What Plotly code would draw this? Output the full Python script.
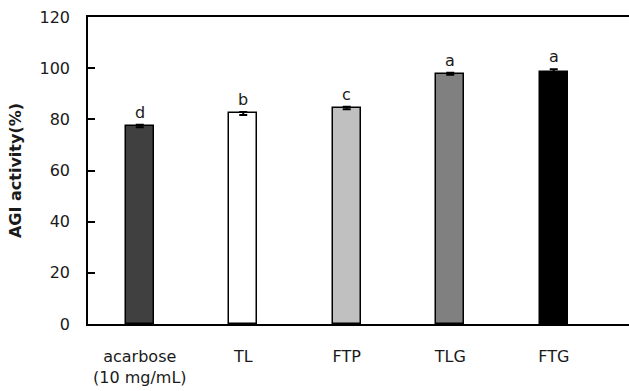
import plotly.graph_objects as go

categories = ["acarbose<br>(10 mg/mL)", "TL", "FTP", "TLG", "FTG"]
values = [77.4, 82.3, 84.4, 97.8, 98.6]
errors = [0.5, 0.6, 0.5, 0.4, 1.0]
letters = ["d", "b", "c", "a", "a"]
colors = ["#404040", "#ffffff", "#c0c0c0", "#808080", "#000000"]
yticks = [0, 20, 40, 60, 80, 100, 120]

FONT = "DejaVu Sans"
TXT = "#1a1a1a"

fig = go.Figure()
fig.add_trace(go.Bar(
    x=list(range(len(categories))), y=values,
    marker=dict(color=colors, line=dict(color="black", width=1.5)),
    width=0.27,
    error_y=dict(type="data", array=errors, visible=True, color="black", thickness=2, width=4),
    showlegend=False,
))

for i, (v, e, l) in enumerate(zip(values, errors, letters)):
    fig.add_annotation(x=i, y=v + e, text=l, showarrow=False, yanchor="bottom", yshift=1,
                       font=dict(family=FONT, size=16, color=TXT))

fig.update_layout(
    width=629, height=391, autosize=False,
    margin=dict(l=88, r=0, t=17, b=67),
    plot_bgcolor="white", paper_bgcolor="white",
    font=dict(family=FONT, size=16, color=TXT),
    bargap=0,
    xaxis=dict(
        range=[-0.5, -0.5 + (629 - 88) / 103.5],
        tickmode="array", tickvals=list(range(len(categories))), ticktext=categories,
        showline=True, linecolor="black", linewidth=1.5, mirror=True,
        ticks="", showgrid=False, zeroline=False, automargin=False,
        tickfont=dict(family=FONT, size=16, color=TXT),
        ticklabelstandoff=17,
    ),
    yaxis=dict(
        range=[0, 120], tickvals=yticks,
        showline=True, linecolor="black", linewidth=1.5,
        ticks="inside", ticklen=7, tickwidth=1.5, tickcolor="black",
        showgrid=False, zeroline=False, automargin=False,
        tickfont=dict(family=FONT, size=16, color=TXT),
        ticklabelstandoff=13,
        title=dict(text="<b>AGI activity(%)</b>", font=dict(family=FONT, size=16, color=TXT), standoff=14),
    ),
)

fig.write_html(
    "out.html",
    config={"responsive": False, "displayModeBar": False},
    post_script="document.body.style.margin='0px';document.body.style.overflow='hidden';",
)
